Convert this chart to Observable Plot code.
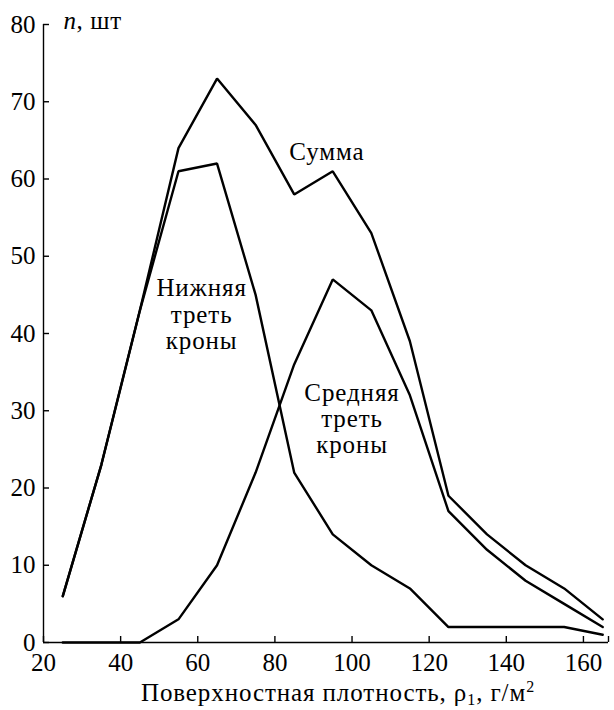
<!DOCTYPE html>
<html>
<head>
<meta charset="utf-8">
<script src="https://cdn.jsdelivr.net/npm/d3@7"></script>
<script src="https://cdn.jsdelivr.net/npm/@observablehq/plot@0.6"></script>
<style>
  html, body { margin: 0; padding: 0; background: #fff; }
</style>
</head>
<body>
<div id="chart"></div>
<script>
// Surface density classes, g/m² (class midpoints)
const density = [25, 35, 45, 55, 65, 75, 85, 95, 105, 115, 125, 135, 145, 155, 165];
// Number of needles per class
const total       = [6, 23, 43, 64, 73, 67, 58, 61, 53, 39, 19, 14, 10, 7, 3];
const lowerThird  = [6, 23, 43, 61, 62, 45, 22, 14, 10, 7, 2, 2, 2, 2, 1];
const middleThird = [0, 0, 0, 3, 10, 22, 36, 47, 43, 32, 17, 12, 8, 5, 2];

const seriesNames = ["Сумма", "Нижняя треть кроны", "Средняя треть кроны"];
const seriesValues = [total, lowerThird, middleThird];

const xTicks = [20, 40, 60, 80, 100, 120, 140, 160];
const yTicks = [0, 10, 20, 30, 40, 50, 60, 70, 80];
const xDomain = [20, 166.5];
const yDomain = [0, 80];

const yTitle = "n, шт";
const xTitle = "Поверхностная плотность, ρ1, г/м2";
const labelSum = "Сумма";
const labelLower = "Нижняя\nтреть\nкроны";
const labelMiddle = "Средняя\nтреть\nкроны";

const rows = seriesNames.flatMap((name, s) =>
  density.map((d, i) => ({series: name, density: d, count: seriesValues[s][i]}))
);

const W = 614, H = 710;
const M = {top: 24, right: 6, bottom: 68, left: 43};
const frameW = W - M.left - M.right;
const frameH = H - M.top - M.bottom;
const tickLen = 6;
const font = "Liberation Serif, Times New Roman, serif";

const chart = Plot.plot({
  width: W,
  height: H,
  marginTop: M.top,
  marginRight: M.right,
  marginBottom: M.bottom,
  marginLeft: M.left,
  style: {fontFamily: font, fontSize: "25px", background: "#fff", color: "#000"},
  x: {domain: xDomain},
  y: {domain: yDomain},
  marks: [
    Plot.line(rows, {
      x: "density", y: "count", z: "series",
      stroke: "#000", strokeWidth: 2.4, strokeLinejoin: "miter"
    }),
    // axis lines
    Plot.ruleY([yDomain[0]], {stroke: "#000", strokeWidth: 1.4}),
    Plot.ruleX([xDomain[0]], {stroke: "#000", strokeWidth: 1.4}),
    // inward ticks
    Plot.tickX([...xTicks, xDomain[1]], {x: d => d, insetTop: frameH - tickLen, stroke: "#000", strokeWidth: 1.4}),
    Plot.tickY(yTicks, {y: d => d, insetRight: frameW - tickLen, stroke: "#000", strokeWidth: 1.4}),
    Plot.axisX({ticks: xTicks, tickSize: 0, tickPadding: 11, label: null, fontSize: 25, fontFamily: font}),
    Plot.axisY({ticks: yTicks, tickSize: 0, tickPadding: 8, label: null, fontSize: 25, fontFamily: font}),
    // axis titles
    Plot.text([yTitle], {
      frameAnchor: "top-left", textAnchor: "start", lineAnchor: "bottom",
      dx: 20, dy: 4, fontSize: 25, fontFamily: font, text: d => d
    }),
    Plot.text([xTitle], {
      frameAnchor: "bottom", lineAnchor: "bottom",
      dx: 12, dy: 58, fontSize: 25, fontFamily: font, text: d => d
    }),
    // curve labels
    Plot.text([labelSum], {x: 93.5, y: 63.5, text: d => d, fontSize: 25, fontFamily: font}),
    Plot.text([labelLower], {x: 61, y: 42.5, text: d => d, fontSize: 25, fontFamily: font, lineHeight: 1.05}),
    Plot.text([labelMiddle], {x: 100, y: 29, text: d => d, fontSize: 25, fontFamily: font, lineHeight: 1.05})
  ]
});

// Rich text for axis titles (italic n, subscript and superscript) and label tracking
const svg = d3.select(chart);
svg.selectAll("text").each(function () {
  const el = d3.select(this);
  const content = this.textContent;
  if (content === yTitle) {
    el.text(null).attr("letter-spacing", 0.6);
    el.append("tspan").attr("font-style", "italic").text("n");
    el.append("tspan").text(", шт");
  } else if (content === xTitle) {
    el.text(null).attr("letter-spacing", 0.9);
    el.append("tspan").text("Поверхностная плотность, ρ");
    el.append("tspan").attr("font-size", 16).attr("dy", 4).text("1");
    el.append("tspan").attr("dy", -4).text(", г/м");
    el.append("tspan").attr("font-size", 16).attr("dy", -9).text("2");
  } else if (content === labelSum || content === labelLower.replace(/\n/g, "") || content === labelMiddle.replace(/\n/g, "")) {
    el.attr("letter-spacing", 0.9);
  }
});

document.getElementById("chart").appendChild(chart);
</script>
</body>
</html>
